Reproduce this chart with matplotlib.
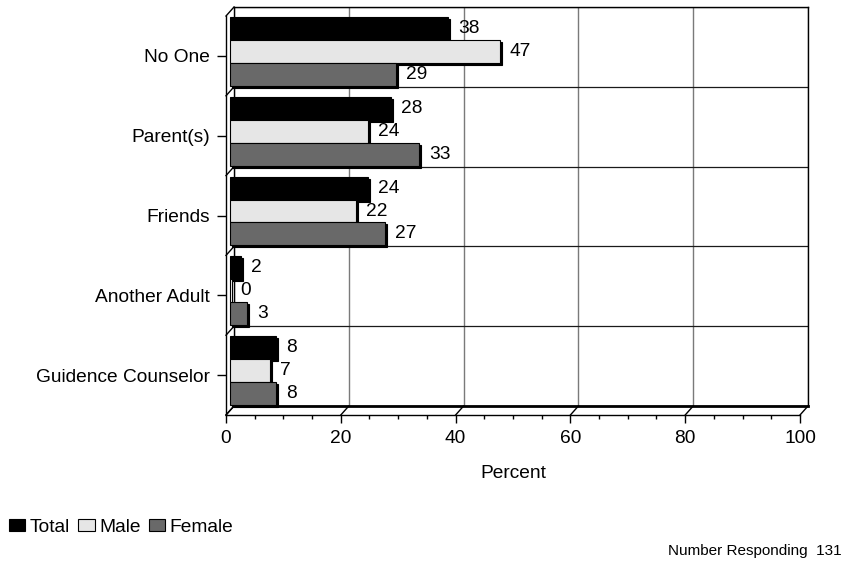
import matplotlib
matplotlib.use("Agg")
import matplotlib.pyplot as plt
import matplotlib.transforms as mtransforms
from matplotlib.lines import Line2D
from matplotlib.patches import Patch
from matplotlib.ticker import MultipleLocator
import numpy as np

# ---- data -------------------------------------------------------------
categories = ["No One", "Parent(s)", "Friends", "Another Adult", "Guidence Counselor"]
series_names = ["Total", "Male", "Female"]
total = [38, 28, 24, 2, 8]
male = [47, 24, 22, 0, 7]
female = [29, 33, 27, 3, 8]
x_ticks = [0, 20, 40, 60, 80, 100]
respondents = 131

series_values = [total, male, female]
series_colors = ["#000000", "#e6e6e6", "#696969"]

FS = 13.8
plt.rcParams["font.family"] = ["Liberation Sans", "DejaVu Sans"]
plt.rcParams["font.size"] = FS

W, H = 845, 561
fig = plt.figure(figsize=(W / 100, H / 100), dpi=100)


def px_box(left, top, right, bottom):
    """Pixel box (top-down coordinates) -> figure fraction rect."""
    return [left / W, 1 - bottom / H, (right - left) / W, (bottom - top) / H]


DX, DY = 8, 9                      # depth of the pseudo-3D box, pixels
BACK = (234, 7, 808, 406)          # back wall
ax = fig.add_axes(px_box(*BACK))
axf = fig.add_axes(px_box(BACK[0] - DX, BACK[1] + DY, BACK[2] - DX, BACK[3] + DY))
axf.patch.set_visible(False)

n = len(categories)
y = np.arange(n)
for a in (ax, axf):
    a.set_xlim(0, 100)
    a.set_ylim(n - 0.5, -0.5)

# ---- back wall: grid and frame ----------------------------------------
ax.set_xticks(x_ticks)
ax.set_yticks(np.arange(n + 1) - 0.5)
ax.xaxis.grid(True, color="#7a7a7a", lw=1)
ax.yaxis.grid(True, color="#1a1a1a", lw=0.9)
ax.tick_params(length=0, labelbottom=False, labelleft=False)
for side in ("left", "top", "right"):
    ax.spines[side].set_linewidth(1.0)
ax.spines["bottom"].set_linewidth(2.0)
ax.set_axisbelow(True)

# ---- front axes: ticks and labels -------------------------------------
axf.spines["top"].set_visible(False)
axf.spines["right"].set_visible(False)
axf.spines["left"].set_linewidth(1.0)
axf.spines["bottom"].set_linewidth(1.0)
axf.set_xticks(x_ticks)
axf.xaxis.set_minor_locator(MultipleLocator(5))
axf.set_yticks(y)
axf.set_yticklabels(categories)
axf.tick_params(axis="x", which="major", length=5.8, width=1, pad=5, direction="out")
axf.tick_params(axis="x", which="minor", length=3.0, width=1, direction="out")
axf.tick_params(axis="y", which="major", length=6.5, width=1, pad=5, direction="out")
axf.tick_params(axis="y", which="minor", length=0)

# ---- depth connectors (left wall and floor) ---------------------------
ax_disp = ax.transData
def connector(xd, yd):
    bx, by = ax_disp.transform((xd, yd))
    fig.add_artist(Line2D([bx - DX, bx], [by - DY, by], color="black", lw=1,
                          transform=mtransforms.IdentityTransform()))

for yb in np.arange(n + 1) - 0.5:
    connector(0, yb)
for xt in x_ticks:
    connector(xt, n - 0.5)

# ---- bars in the middle depth plane -----------------------------------
mid = ax.transData + mtransforms.ScaledTranslation(-DX / 200, -DY / 200, fig.dpi_scale_trans)
shadow = mid + mtransforms.ScaledTranslation(2 / 100, -2 / 100, fig.dpi_scale_trans)
label_tf = mid + mtransforms.ScaledTranslation(10 / 100, 0, fig.dpi_scale_trans)

bh = 0.2875
offsets = [-bh, 0, bh]
for vals, col, off, name in zip(series_values, series_colors, offsets, series_names):
    ax.barh(y + off, vals, height=bh, color="black", edgecolor="black", lw=0.8,
            transform=shadow, clip_on=False, zorder=3)
    ax.barh(y + off, vals, height=bh, color=col, edgecolor="black", lw=0.8,
            transform=mid, clip_on=False, zorder=4, label=name)
    for yy, v in zip(y + off, vals):
        ax.text(v, yy, f"{v}", transform=label_tf, ha="left", va="center",
                fontsize=FS, zorder=5, clip_on=False)

# ---- titles, legend, note ---------------------------------------------
fig.text(513 / W, 1 - 473 / H, "Percent", ha="center", va="center", fontsize=FS)

handles = [Patch(facecolor=c, edgecolor="black", lw=0.8) for c in series_colors]
fig.legend(handles, series_names, loc="center left",
           bbox_to_anchor=(9 / W, 1 - 527 / H), ncol=3, frameon=False,
           handlelength=0.85, handleheight=0.6, handletextpad=0.22,
           columnspacing=0.45, borderpad=0, borderaxespad=0, fontsize=FS)

fig.text(842 / W, 1 - 551 / H, f"Number Responding  {respondents}",
         ha="right", va="center", fontsize=11)

fig.savefig("out.png", dpi=100)
